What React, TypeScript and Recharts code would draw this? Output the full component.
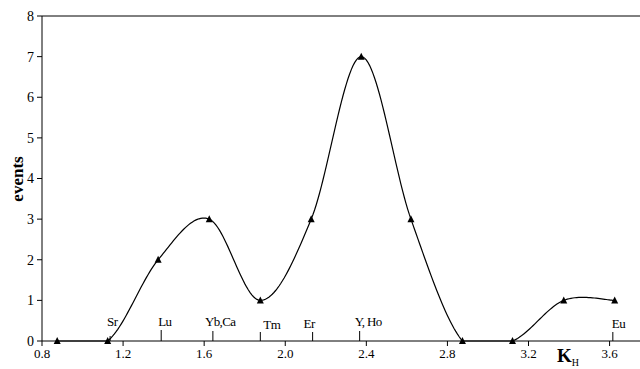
import { ComposedChart, Line, XAxis, YAxis, ReferenceLine, ReferenceDot } from "recharts";

// K_H values of the measured points and event counts
const kValues = [0.875, 1.124, 1.373, 1.625, 1.877, 2.128, 2.375, 2.62, 2.874, 3.121, 3.374, 3.625];
const events = [0, 0, 2, 3, 1, 3, 7, 3, 0, 0, 1, 1];

// element markers along the axis
const elementNames = ["Sr", "Lu", "Yb,Ca", "Tm", "Er", "Y, Ho", "Eu"];
const elementK = [1.136, 1.388, 1.643, 1.877, 2.135, 2.367, 3.616];

const xTicks = [0.8, 1.2, 1.6, 2.0, 2.4, 2.8, 3.2, 3.6];
const yTicks = [0, 1, 2, 3, 4, 5, 6, 7, 8];

// hand placement of the element labels (style only)
const labelDx = [-3, -3, -8, 3, -9, -5, -1];
const labelDy = [0, 0, 0, 3, 2, 0, 2];
const markLen = [5, 11, 10, 9, 9, 10, 9];

const data = kValues.map((k, i) => ({ k, events: events[i] }));

const FONT = "Liberation Serif, Times New Roman, serif";

// Excel-like smoothed line (Catmull-Rom beziers), flattened and kept above the x axis
function smoothCurve(context: any) {
  let pts: number[][] = [];
  return {
    areaStart() {},
    areaEnd() {},
    lineStart() {
      pts = [];
    },
    point(x: number, y: number) {
      pts.push([+x, +y]);
    },
    lineEnd() {
      if (!pts.length) return;
      const floor = Math.max(...pts.map((p) => p[1]));
      context.moveTo(pts[0][0], pts[0][1]);
      for (let i = 0; i < pts.length - 1; i++) {
        const p0 = pts[i - 1] || pts[i];
        const p1 = pts[i];
        const p2 = pts[i + 1];
        const p3 = pts[i + 2] || p2;
        const c1x = p1[0] + (p2[0] - p0[0]) / 6;
        const c1y = p1[1] + (p2[1] - p0[1]) / 6;
        const c2x = p2[0] - (p3[0] - p1[0]) / 6;
        const c2y = p2[1] - (p3[1] - p1[1]) / 6;
        const steps = 30;
        for (let s = 1; s <= steps; s++) {
          const t = s / steps;
          const u = 1 - t;
          const x = u * u * u * p1[0] + 3 * u * u * t * c1x + 3 * u * t * t * c2x + t * t * t * p2[0];
          const y = u * u * u * p1[1] + 3 * u * u * t * c1y + 3 * u * t * t * c2y + t * t * t * p2[1];
          context.lineTo(x, Math.min(y, floor));
        }
      }
    },
  };
}

const Triangle = (p: any) => {
  const { cx, cy, index } = p;
  if (cx == null || cy == null) return <g key={`t${index}`} />;
  return (
    <path
      key={`t${index}`}
      d={`M${cx},${cy - 4} L${cx + 3.5},${cy + 3} L${cx - 3.5},${cy + 3} Z`}
      fill="#000"
    />
  );
};

const elementMark = (i: number) => (p: any) => {
  const { cx, cy } = p;
  return (
    <g>
      <line x1={cx} y1={cy} x2={cx} y2={cy - markLen[i]} stroke="#000" strokeWidth={1} />
      <text
        x={cx + labelDx[i]}
        y={cy - 15 + labelDy[i]}
        style={{ fontFamily: FONT, fontSize: 13, letterSpacing: -0.6 }}
        fill="#000"
      >
        {elementNames[i]}
      </text>
    </g>
  );
};

const tickStyle = { fill: "#000", fontSize: 13, fontFamily: FONT, style: { fontFamily: FONT } };

export default function App() {
  return (
    <div style={{ position: "absolute", left: 0, top: 0, width: 640, height: 369, overflow: "hidden", background: "#fff" }}>
      <ComposedChart width={640} height={369} data={data} margin={{ top: 16, right: 0, left: 0, bottom: 0 }}>
        <XAxis
          dataKey="k"
          type="number"
          domain={[0.8, 3.75]}
          ticks={xTicks}
          tickFormatter={(v) => v.toFixed(1)}
          height={28}
          stroke="#000"
          tickSize={5}
          tickMargin={3}
          tick={tickStyle}
        />
        <YAxis
          type="number"
          domain={[0, 8]}
          ticks={yTicks}
          width={42}
          stroke="#000"
          tickSize={5}
          tickMargin={3}
          tick={{ ...tickStyle, fontSize: 14 }}
        />
        <ReferenceLine y={8} stroke="#000" strokeWidth={1} />
        {elementNames.map((name, i) => (
          <ReferenceDot key={name} x={elementK[i]} y={0} shape={elementMark(i)} />
        ))}
        <Line
          dataKey="events"
          type={smoothCurve as any}
          stroke="#000"
          strokeWidth={1.2}
          dot={Triangle}
          activeDot={false}
          isAnimationActive={false}
        />
        <text
          x={17}
          y={179}
          transform="rotate(-90 17 179)"
          textAnchor="middle"
          dominantBaseline="central"
          style={{ fontFamily: FONT, fontSize: 17, fontWeight: "bold" }}
          fill="#000"
        >
          events
        </text>
        <text x={557} y={362} style={{ fontFamily: FONT, fontSize: 19, fontWeight: "bold" }} fill="#000">
          K
          <tspan style={{ fontSize: 10, fontWeight: "normal" }} dy={4}>
            H
          </tspan>
        </text>
      </ComposedChart>
    </div>
  );
}
